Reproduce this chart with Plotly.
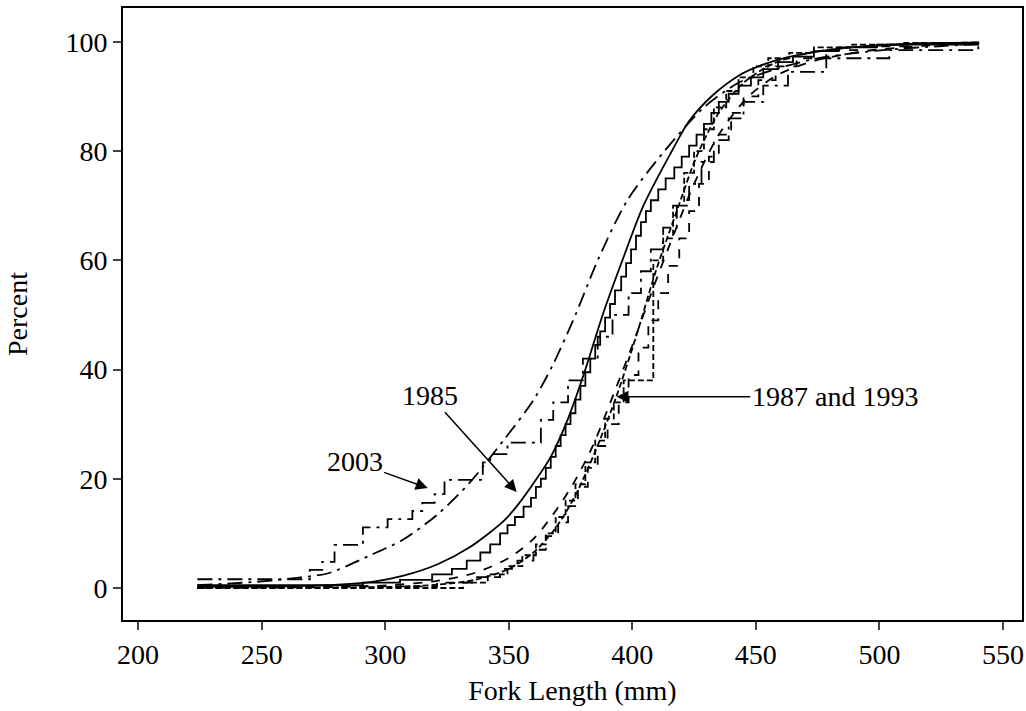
import plotly.graph_objects as go

# ---- data ----
# fitted (smooth) cumulative curves, percent vs fork length (mm)
fit85_x = [224, 260, 281, 296, 307, 321, 334, 348, 354, 361, 367, 374, 381, 388, 396, 404.5, 416, 423, 432, 443, 451, 463, 479, 498, 518, 540]
fit85_y = [0.2, 0.3, 0.6, 1.2, 2.2, 4.3, 7.4, 12.3, 15.4, 19.8, 24.0, 31.0, 40.0, 50.0, 60.0, 70.0, 80.0, 85.5, 90.0, 93.8, 95.5, 97.2, 98.5, 99.3, 99.7, 99.9]

fit03_x = [224, 250, 265, 277, 294, 307, 321, 334, 348, 360, 368, 377, 386, 398, 413, 429, 443, 458, 473, 489, 504, 524, 540]
fit03_y = [0.5, 1.2, 1.9, 2.7, 6.0, 8.8, 13.4, 19.2, 27.1, 34.4, 41.0, 50.0, 60.0, 71.0, 80.0, 88.0, 92.5, 95.0, 96.8, 97.9, 98.6, 99.2, 99.6]

fit87_x = [224, 281, 301, 321, 336.5, 350, 360, 368, 376, 384, 392, 400.5, 408.5, 417, 425, 435, 447, 459, 473.5, 494, 519, 540]
fit87_y = [0.0, 0.2, 0.5, 1.3, 2.8, 5.5, 9.0, 13.5, 19.0, 26.0, 35.0, 45.0, 55.0, 65.0, 74.0, 83.0, 90.0, 94.0, 96.5, 98.3, 99.3, 99.8]

fit93_x = [224, 301, 321, 336.5, 350, 360, 369, 377, 385, 393.5, 401.5, 409.5, 418, 426, 435, 445, 457, 471.5, 489, 514, 540]
fit93_y = [0.0, 0.2, 0.6, 1.5, 3.5, 6.5, 11.0, 17.0, 25.0, 35.0, 46.0, 58.0, 69.0, 79.0, 87.0, 92.5, 96.0, 98.0, 99.0, 99.6, 99.9]

# empirical (step) cumulative curves
emp85_x = [224, 291, 306, 319, 327, 333, 338.5, 342.5, 346.5, 349.5, 352.5, 356, 359, 361, 363, 365, 367, 369, 371, 373, 375, 377, 379, 381, 383, 385, 387, 389, 391, 393, 395.5, 397.5, 399.5, 401.5, 403.5, 405.5, 407.5, 410.5, 413.5, 417, 420, 423, 426, 429, 432, 435, 439, 443, 448, 453, 459, 465, 473.5, 483.5, 499, 540]
emp85_y = [0.5, 1.0, 1.5, 2.5, 3.5, 5.0, 6.5, 8.0, 10.0, 11.5, 13.0, 14.9, 16.5, 18.5, 20.0, 22.0, 24.0, 26.0, 28.0, 30.0, 32.0, 34.5, 37.0, 39.5, 42.0, 44.5, 47.0, 49.5, 52.0, 54.5, 57.0, 59.5, 62.0, 64.5, 67.0, 69.0, 71.0, 73.0, 75.0, 77.0, 79.0, 81.0, 83.0, 85.0, 87.0, 89.0, 90.5, 92.0, 93.5, 95.0, 96.3, 97.3, 98.3, 99.0, 99.5, 100.0]

emp03_x = [224, 269.5, 274.5, 279.5, 291, 301, 311, 315, 320, 324, 339.5, 342.5, 349.5, 363, 368, 374, 380, 386, 392, 398.5, 403.5, 407.5, 412.5, 418, 423, 428, 433, 439, 445, 453, 463, 478.5, 504, 540]
emp03_y = [1.6, 3.3, 4.8, 7.9, 11.1, 12.6, 14.1, 15.6, 17.2, 19.8, 23.0, 24.5, 26.6, 30.8, 34.0, 38.0, 42.0, 46.0, 50.0, 54.0, 58.0, 62.0, 66.0, 70.0, 74.0, 78.0, 82.0, 86.0, 89.0, 92.0, 94.5, 97.0, 98.5, 100.0]

emp87_x = [224, 321, 336.5, 346.5, 353.5, 360, 365, 370, 374, 378, 382, 386, 390, 394.5, 398.5, 402.5, 406.5, 410.5, 414.5, 419, 423, 427, 431, 435, 440, 445, 451, 458, 466.5, 478.5, 494, 514, 540]
emp87_y = [0.3, 1.0, 2.0, 3.5, 5.0, 7.0, 9.5, 12.0, 15.0, 18.5, 22.0, 26.0, 30.0, 34.0, 39.0, 44.0, 49.0, 54.0, 59.0, 64.0, 69.0, 74.0, 79.0, 83.0, 87.0, 90.0, 93.0, 95.5, 97.0, 98.5, 99.2, 99.7, 100.0]

emp93_x = [224, 331.5, 341.5, 349.5, 355.5, 361, 365, 369, 373, 377, 381, 385, 389, 392.5, 396.5, 408.5, 412.5, 416.5, 421, 425, 429, 433, 438, 443, 449, 455, 463.5, 473.5, 489, 509, 540]
emp93_y = [0.0, 1.0, 2.5, 4.0, 6.0, 8.0, 10.0, 13.0, 16.0, 19.0, 23.0, 27.0, 31.0, 34.0, 38.0, 60.0, 64.0, 70.0, 76.0, 80.0, 84.0, 88.0, 91.0, 93.5, 95.5, 97.0, 98.0, 99.0, 99.5, 99.8, 100.0]

x_ticks = [200, 250, 300, 350, 400, 450, 500, 550]
y_ticks = [0, 20, 40, 60, 80, 100]

FONT = "Liberation Serif"
LW = 1.8

fig = go.Figure()

def add_fit(x, y, dash):
    fig.add_trace(go.Scatter(x=x, y=y, mode="lines", line=dict(color="black", width=LW, dash=dash, shape="spline", smoothing=0.8), showlegend=False, hoverinfo="skip"))

def add_emp(x, y, dash):
    fig.add_trace(go.Scatter(x=x, y=y, mode="lines", line=dict(color="black", width=LW, dash=dash, shape="hv"), showlegend=False, hoverinfo="skip"))

add_fit(fit85_x, fit85_y, "solid")
add_emp(emp85_x, emp85_y, "solid")
add_fit(fit03_x, fit03_y, "longdashdot")
add_emp(emp03_x, emp03_y, "longdashdot")
add_fit(fit87_x, fit87_y, "dash")
add_emp(emp87_x, emp87_y, "dash")
add_fit(fit93_x, fit93_y, "6px,3px")
add_emp(emp93_x, emp93_y, "6px,3px")

tick_font = dict(family=FONT, size=28, color="black")

fig.update_xaxes(range=[193.9, 557.7], tickvals=x_ticks, ticks="outside", ticklen=8, tickwidth=1.5,
                 ticklabeloverflow="allow", automargin=False,
                 showline=True, linecolor="black", linewidth=2, mirror=True, showgrid=False, zeroline=False,
                 tickfont=tick_font, title=dict(text="Fork Length (mm)", font=tick_font, standoff=12))
fig.update_yaxes(range=[-5.86, 106.2], tickvals=y_ticks, ticks="outside", ticklen=8, tickwidth=1.5,
                 ticklabeloverflow="allow", automargin=False,
                 showline=True, linecolor="black", linewidth=2, mirror=True, showgrid=False, zeroline=False,
                 tickfont=tick_font, title=dict(text="Percent", font=tick_font, standoff=30))

ann_font = dict(family=FONT, size=28, color="black")
fig.add_annotation(x=353.2, y=17.6, ax=318.0, ay=35.3, axref="x", ayref="y", text="1985",
                   showarrow=True, arrowhead=2, arrowsize=1.6, arrowwidth=1.5, arrowcolor="black", font=ann_font)
fig.add_annotation(x=317.2, y=18.3, ax=287.6, ay=23.1, axref="x", ayref="y", text="2003",
                   showarrow=True, arrowhead=2, arrowsize=1.6, arrowwidth=1.5, arrowcolor="black", font=ann_font)
fig.add_annotation(x=393.6, y=35.0, ax=481.9, ay=35.0, axref="x", ayref="y", text="1987 and 1993",
                   showarrow=True, arrowhead=2, arrowsize=1.6, arrowwidth=1.5, arrowcolor="black", font=ann_font)

fig.update_layout(width=1026, height=711, margin=dict(l=123, r=4, t=8, b=91),
                  plot_bgcolor="white", paper_bgcolor="white", font=dict(family=FONT, color="black"))

fig.write_html("out.html")
